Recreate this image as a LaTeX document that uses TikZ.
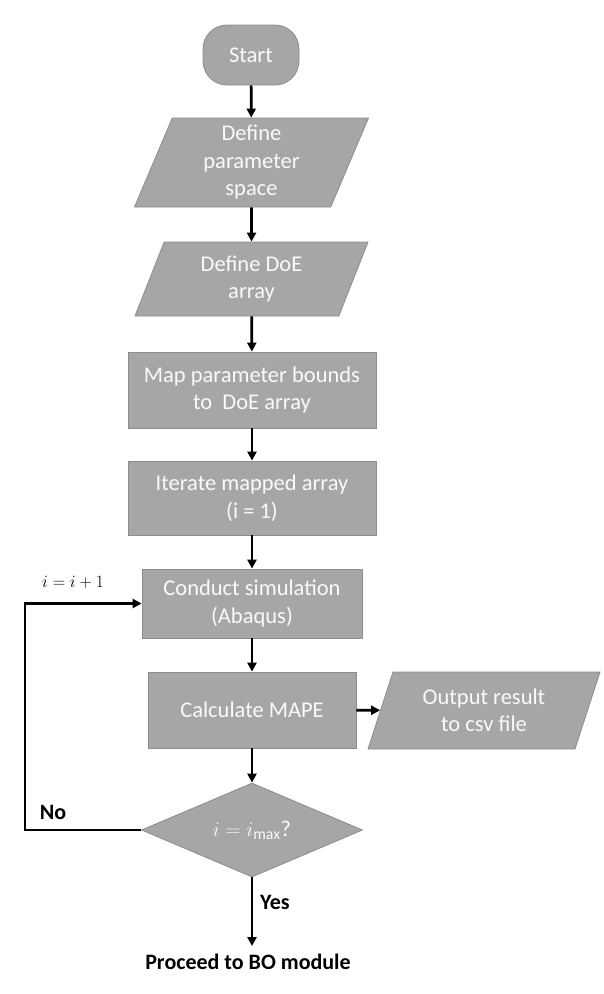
\documentclass[tikz,border=0pt]{standalone}
\usepackage{amsmath}
\usepackage{fontspec}
\setmainfont{Carlito}
\usepackage{tikz}
\usetikzlibrary{arrows.meta, positioning, shapes.geometric}

\definecolor{boxgray}{HTML}{A6A6A6}
\definecolor{rimgray}{HTML}{8C8C8C}
\definecolor{boxtext}{HTML}{FAFAFA}

\begin{document}
\begin{tikzpicture}[
    x=1pt, y=-1pt,
    font=\fontsize{22.5}{27.5}\selectfont,
    base/.style={draw=rimgray, line width=0.8pt, fill=boxgray, text=boxtext, align=center, inner sep=0pt},
    term/.style={base, rectangle, rounded corners=24pt, minimum width=96pt, minimum height=60pt},
    proc/.style={base, rectangle},
    io/.style={base, trapezium, trapezium stretches body, trapezium left angle=#1, trapezium right angle=180-#1},
    dec/.style={base, diamond, aspect=2.35, minimum width=221pt, minimum height=94pt},
    lbl/.style={text=black, inner sep=0pt, font=\fontsize{22}{27}\selectfont\bfseries},
    el/.style={-{Triangle[length=9pt, width=9pt]}, line width=2.7pt}
  ]
    \useasboundingbox (0,0) rectangle (603,994);

    % nodes
    \node[term] (start) at (251,55) {Start};
    \node[io={63}, minimum height=89pt, minimum width=234pt] (space) at (251.5,162.5) {Define\\parameter\\space};
    \node[io={58}, minimum height=74pt, minimum width=233pt] (doe) at (251.5,279) {Define DoE\\array};
    \node[proc, minimum width=248pt, minimum height=76pt] (map) at (252,390) {Map parameter bounds\\to~ DoE array};
    \node[proc, minimum width=248pt, minimum height=74pt] (iter) at (252,498) {Iterate mapped array\\(i = 1)};
    \node[proc, minimum width=220pt, minimum height=69pt] (sim) at (252,603.5) {Conduct simulation\\(Abaqus)};
    \node[proc, minimum width=208pt, minimum height=76pt] (mape) at (252,710) {Calculate MAPE};
    \node[io={60}, minimum height=77pt, minimum width=232pt] (out) at (484,710.5) {Output result\\to csv file};
    \node[dec] (check) at (252,830) {$i = i_{\text{max}}$?};
    \node[lbl, inner sep=8pt] (bo) at (248,962) {Proceed to BO module};

    % labels
    \node[text=black, font=\fontsize{19}{23}\selectfont] (inc) at (73,582) {$i = i + 1$};
    \node[lbl] (no) at (53,812) {No};
    \node[lbl] (yes) at (275,902) {Yes};

    % flow
    \draw[el] (start) -- (space);
    \draw[el] (space) -- (doe);
    \draw[el] (doe) -- (map);
    \draw[el] (map) -- (iter);
    \draw[el] (iter) -- (sim);
    \draw[el] (sim) -- (mape);
    \draw[el] (mape) -- (out);
    \draw[el] (mape) -- (check);
    \draw[el] (check.south) -- (check.south |- bo.north);

    % loop back
    \draw[el] (check.west) -- ++(-116,0) |- (sim.west);
  \end{tikzpicture}
\end{document}
